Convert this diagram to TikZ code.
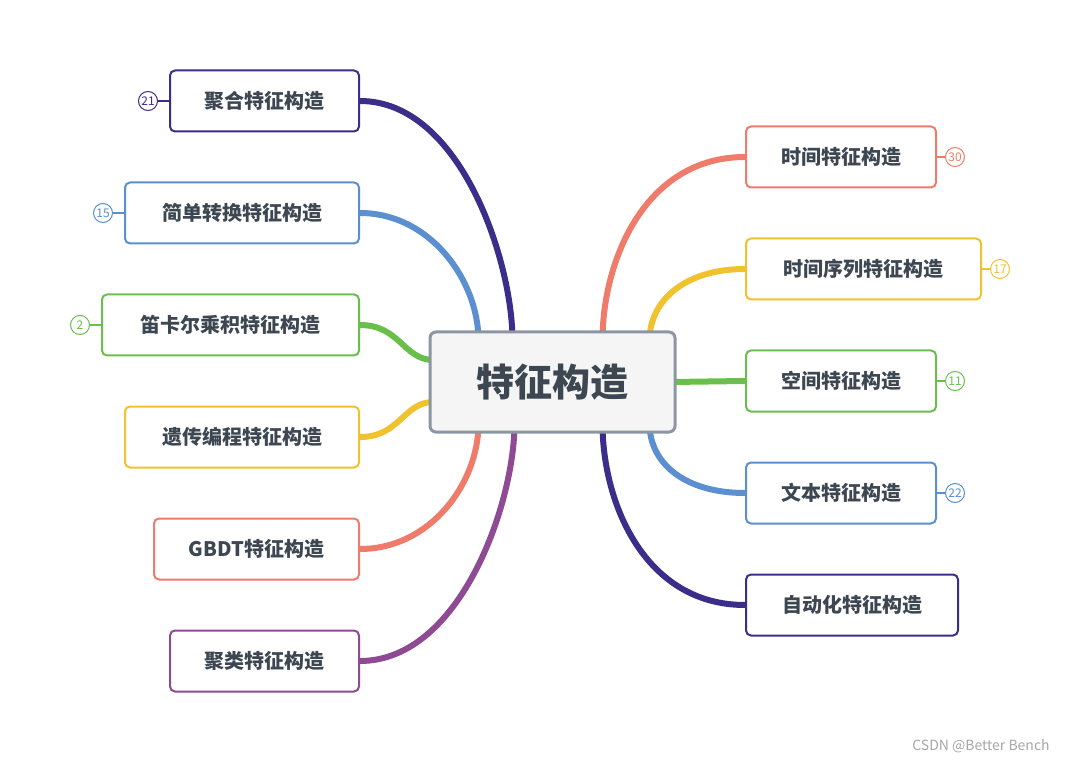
\documentclass[tikz,border=0pt]{standalone}
\usepackage{fontspec}
\setmainfont{Noto Sans CJK SC}
\usetikzlibrary{backgrounds,calc}
\definecolor{cdark}{HTML}{3B2D8A}
\definecolor{cblue}{HTML}{5B8FD0}
\definecolor{cgreen}{HTML}{6ABF4B}
\definecolor{cyellow}{HTML}{F2C12E}
\definecolor{csalmon}{HTML}{EF7B6A}
\definecolor{cpurple}{HTML}{8E4A93}
\definecolor{ctext}{HTML}{3D4752}
\definecolor{cgray}{HTML}{8A96A3}
\tikzset{
 x=1pt,y=1pt,
 leaf/.style={draw=#1,line width=2pt,rounded corners=5pt,fill=white,minimum height=61pt,inner xsep=0pt,font=\fontsize{20}{24}\selectfont\bfseries,text=ctext,anchor=west},
 badge/.style={draw=#1,line width=1pt,circle,minimum size=19pt,inner sep=0pt,font=\fontsize{12}{12}\selectfont,text=#1},
 link/.style={draw=#1,line width=6pt},
 blink/.style={draw=#1,line width=1.2pt}
}
\begin{document}
\begin{tikzpicture}
\useasboundingbox (0,0) rectangle (1080,-762);
\node[draw=cgray,line width=3pt,rounded corners=6pt,fill=gray!8,minimum width=245pt,minimum height=100pt,font=\fontsize{38}{44}\selectfont\bfseries,text=ctext] (c) at (552.5,-382) {特征构造};
% left
\node[leaf=cdark,minimum width=189pt] (l1) at (169,-101) {聚合特征构造};
\node[leaf=cblue,minimum width=234pt] (l2) at (124,-213) {简单转换特征构造};
\node[leaf=cgreen,minimum width=257pt] (l3) at (101,-325) {笛卡尔乘积特征构造};
\node[leaf=cyellow,minimum width=234pt] (l4) at (124,-437) {遗传编程特征构造};
\node[leaf=csalmon,minimum width=205pt] (l5) at (153,-549) {GBDT特征构造};
\node[leaf=cpurple,minimum width=189pt] (l6) at (169,-661) {聚类特征构造};
% right
\node[leaf=csalmon,minimum width=190pt] (r1) at (745,-157) {时间特征构造};
\node[leaf=cyellow,minimum width=235pt] (r2) at (745,-269) {时间序列特征构造};
\node[leaf=cgreen,minimum width=190pt] (r3) at (745,-381) {空间特征构造};
\node[leaf=cblue,minimum width=190pt] (r4) at (745,-493) {文本特征构造};
\node[leaf=cdark,minimum width=212pt] (r5) at (745,-605) {自动化特征构造};
% badges
\node[badge=cdark] (b1) at (148,-101) {21};
\node[badge=cblue] (b2) at (103,-213) {15};
\node[badge=cgreen] (b3) at (80,-325) {2};
\node[badge=csalmon] (b4) at (955,-157) {30};
\node[badge=cyellow] (b5) at (1000,-269) {17};
\node[badge=cgreen] (b6) at (955,-381) {11};
\node[badge=cblue] (b7) at (955,-493) {22};
\draw[blink=cdark] (b1) -- (l1.west);
\draw[blink=cblue] (b2) -- (l2.west);
\draw[blink=cgreen] (b3) -- (l3.west);
\draw[blink=csalmon] (b4) -- (r1.east);
\draw[blink=cyellow] (b5) -- (r2.east);
\draw[blink=cgreen] (b6) -- (r3.east);
\draw[blink=cblue] (b7) -- (r4.east);
\node[font=\fontsize{14}{14}\selectfont,text=gray!70] (wm) at (981,-746) {CSDN @Better Bench};
\begin{scope}[on background layer]
\draw[link=cdark] (l1.east) .. controls +(100,0) and +(0,80) .. ([xshift=-40pt,yshift=-10pt]c.north);
\draw[link=cblue] (l2.east) .. controls +(70,0) and +(0,60) .. ([xshift=-74pt,yshift=-10pt]c.north);
\draw[link=cgreen] (l3.east) .. controls +(40,0) and +(-30,0) .. ([xshift=5pt,yshift=22pt]c.west);
\draw[link=cyellow] (l4.east) .. controls +(40,0) and +(-30,0) .. ([xshift=5pt,yshift=-20pt]c.west);
\draw[link=csalmon] (l5.east) .. controls +(70,0) and +(0,-60) .. ([xshift=-74pt,yshift=10pt]c.south);
\draw[link=cpurple] (l6.east) .. controls +(100,0) and +(0,-80) .. ([xshift=-38pt,yshift=10pt]c.south);
\draw[link=csalmon] (r1.west) .. controls +(-100,0) and +(0,80) .. ([xshift=50pt,yshift=-10pt]c.north);
\draw[link=cyellow] (r2.west) .. controls +(-60,0) and +(0,40) .. ([xshift=97pt,yshift=-10pt]c.north);
\draw[link=cgreen] (r3.west) -- ([xshift=-5pt]c.east);
\draw[link=cblue] (r4.west) .. controls +(-60,0) and +(0,-40) .. ([xshift=97pt,yshift=10pt]c.south);
\draw[link=cdark] (r5.west) .. controls +(-100,0) and +(0,-80) .. ([xshift=50pt,yshift=10pt]c.south);
\end{scope}
\end{tikzpicture}
\end{document}
